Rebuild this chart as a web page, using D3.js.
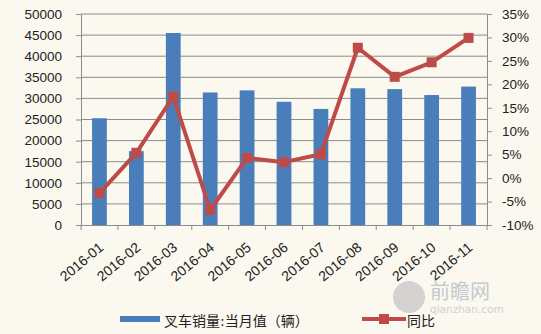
<!DOCTYPE html>
<html>
<head>
<meta charset="utf-8">
<script src="https://d3js.org/d3.v7.min.js"></script>
<style>
  body { margin: 0; background: #fbf8ef; }
  svg { display: block; font-family: "DejaVu Sans", "Noto Sans CJK SC", sans-serif; }
</style>
</head>
<body>
<svg id="chart" width="541" height="334"></svg>
<script>
// data
const months = ['2016-01','2016-02','2016-03','2016-04','2016-05','2016-06','2016-07','2016-08','2016-09','2016-10','2016-11'];
const sales = [25300, 17500, 45500, 31400, 31900, 29200, 27500, 32400, 32200, 30800, 32800];
const yoy = [-3.2, 5.4, 17.4, -6.8, 4.3, 3.4, 5.1, 27.8, 21.6, 24.7, 29.9];
const leftTicks = d3.range(0, 50001, 5000);
const rightTicks = d3.range(-10, 36, 5);

const svg = d3.select('#chart');
const pLeft = 81, pRight = 487, pTop = 14, pBottom = 225;
const blue = '#4a7ebb', red = '#be4b48', grid = '#8c8c8c';

const x = d3.scaleBand().domain(months).range([pLeft, pRight]).paddingInner(0.6).paddingOuter(0.3);
const xc = d3.scaleBand().domain(months).range([pLeft, pRight]);
const yL = d3.scaleLinear().domain([0, 50000]).range([pBottom, pTop]);
const yR = d3.scaleLinear().domain([-10, 35]).range([pBottom, pTop]);

// gridlines
svg.append('g').selectAll('line').data(leftTicks.slice(1)).join('line')
  .attr('x1', pLeft).attr('x2', pRight)
  .attr('y1', d => yL(d)).attr('y2', d => yL(d))
  .attr('stroke', grid).attr('stroke-width', 1);

// watermark (under the labels)
const wm = svg.append('g').attr('opacity', 0.45);
wm.append('circle').attr('cx', 409).attr('cy', 297).attr('r', 16).attr('fill', '#a3a6ab');
wm.append('text').attr('x', 430).attr('y', 299).attr('font-size', 20).attr('fill', '#7f93a8').text('前瞻网');
wm.append('text').attr('x', 430).attr('y', 313).attr('font-size', 10.5).attr('fill', '#9aa0a6').text('qianzhan.com');

// bars
svg.append('g').selectAll('rect').data(sales).join('rect')
  .attr('x', (d, i) => x(months[i]))
  .attr('width', x.bandwidth())
  .attr('y', d => yL(d))
  .attr('height', d => pBottom - yL(d))
  .attr('fill', blue);

// axes
const axL = svg.append('g').attr('transform', `translate(${pLeft},0)`)
  .call(d3.axisLeft(yL).tickValues(leftTicks).tickSize(5).tickSizeOuter(0).tickPadding(14).tickFormat(d3.format('d')));
const axR = svg.append('g').attr('transform', `translate(${pRight},0)`)
  .call(d3.axisRight(yR).tickValues(rightTicks).tickSize(5).tickSizeOuter(0).tickFormat(d => d + '%').tickPadding(10));
const axB = svg.append('g').attr('transform', `translate(0,${pBottom})`)
  .call(d3.axisBottom(xc).tickSize(0).tickSizeOuter(0).tickPadding(0));
[axL, axR, axB].forEach(a => {
  a.select('.domain').attr('stroke', grid);
  a.selectAll('.tick line').attr('stroke', grid);
  a.selectAll('text').attr('fill', '#222').attr('font-size', 13.5);
});
// category boundary ticks
svg.append('g').selectAll('line').data(months.concat(['end'])).join('line')
  .attr('x1', (d, i) => pLeft + i * xc.step()).attr('x2', (d, i) => pLeft + i * xc.step())
  .attr('y1', pBottom).attr('y2', pBottom + 5)
  .attr('stroke', grid);
axB.selectAll('.tick text')
  .attr('text-anchor', 'end')
  .attr('dy', 0)
  .attr('transform', 'translate(5,24) rotate(-40)')
  .attr('font-size', 14);

// line
const line = d3.line().x((d, i) => xc(months[i]) + xc.bandwidth() / 2).y(d => yR(d));
svg.append('path').datum(yoy).attr('d', line)
  .attr('fill', 'none').attr('stroke', red).attr('stroke-width', 4).attr('stroke-linejoin', 'round');
svg.append('g').selectAll('rect').data(yoy).join('rect')
  .attr('x', (d, i) => xc(months[i]) + xc.bandwidth() / 2 - 5)
  .attr('y', d => yR(d) - 5)
  .attr('width', 10).attr('height', 10)
  .attr('fill', red);

// legend
const lg = svg.append('g');
lg.append('rect').attr('x', 120).attr('y', 316).attr('width', 40).attr('height', 6).attr('fill', blue);
lg.append('text').attr('x', 164).attr('y', 326).attr('font-size', 14).attr('fill', '#222').text('叉车销量:当月值（辆）');
lg.append('line').attr('x1', 362).attr('x2', 406).attr('y1', 319).attr('y2', 319).attr('stroke', red).attr('stroke-width', 4);
lg.append('rect').attr('x', 379).attr('y', 314).attr('width', 10).attr('height', 10).attr('fill', red);
lg.append('text').attr('x', 407).attr('y', 326).attr('font-size', 14).attr('fill', '#222').text('同比');
</script>
</body>
</html>
